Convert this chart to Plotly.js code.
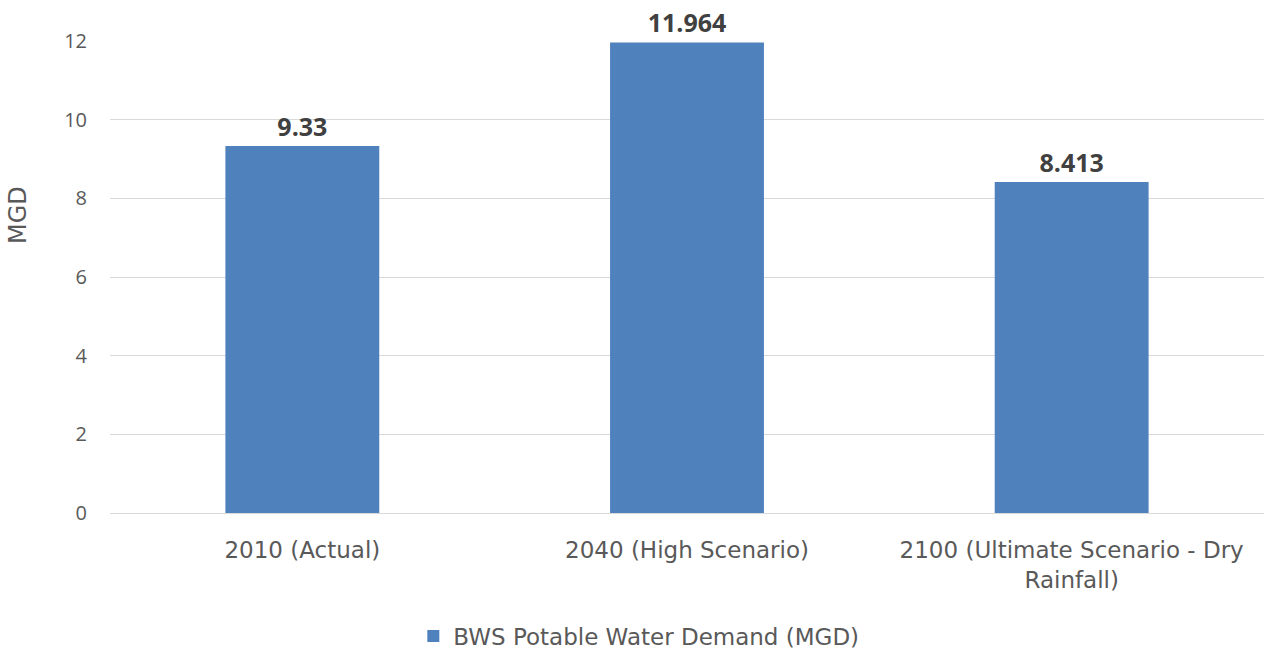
<!DOCTYPE html>
<html><head><meta charset="utf-8">
<script src="https://cdn.plot.ly/plotly-3.0.1.min.js"></script>
<style>html,body{margin:0;padding:0;background:#fff}#chart{width:1265px;height:649px}</style>
</head><body><div id="chart"></div>
<script>
const categories = ["2010 (Actual)", "2040 (High Scenario)", "2100 (Ultimate Scenario - Dry<br>Rainfall)"];
const demand = [9.33, 11.964, 8.413];
const seriesName = "BWS Potable Water Demand (MGD)";
const yTicks = [0, 2, 4, 6, 8, 10, 12];
const yTitle = "MGD";

const bodyFont = "Open Sans, Noto Sans, sans-serif";
const dinFont = "DejaVu Sans, sans-serif";
const L = 110, W = 1265, H = 649, T = 41, B = 136;
const plotW = W - L - 1, plotH = H - T - B;
Plotly.newPlot("chart", [{
  type: "bar",
  x: categories,
  y: demand,
  name: seriesName,
  marker: {color: "#4f81bd"},
  texttemplate: "<b>%{y}</b>",
  textposition: "outside",
  cliponaxis: false,
  constraintext: "none",
  textfont: {family: bodyFont, size: 25, color: "#404040"},
  hoverinfo: "x+y"
}], {
  width: W, height: H,
  margin: {l: L, r: 1, t: T, b: B},
  paper_bgcolor: "#fff", plot_bgcolor: "#fff",
  bargap: 0.6,
  showlegend: true,
  legend: {orientation: "h", xref: "container", x: 0.505, xanchor: "center", yref: "container", y: 0.02, yanchor: "middle",
           itemwidth: 30, font: {family: dinFont, size: 23, color: "#595959"}},
  xaxis: {type: "category", showgrid: false, showline: true, linecolor: "#d9d9d9", linewidth: 1,
          tickfont: {family: dinFont, size: 23, color: "#595959"}, ticks: "", ticklabelstandoff: 16},
  yaxis: {range: [0, 12], tickvals: yTicks, showgrid: true, gridcolor: "#d9d9d9", gridwidth: 1,
          zeroline: false, showline: false, ticks: "", ticklabelstandoff: 22,
          tickfont: {family: bodyFont, size: 20, color: "#595959"}},
  annotations: [{
    text: yTitle, textangle: -90, showarrow: false,
    xref: "paper", yref: "paper",
    x: (18 - L) / plotW, y: (H - B - 215) / plotH, xanchor: "center", yanchor: "middle",
    font: {family: dinFont, size: 24, color: "#595959"}
  }]
}, {displayModeBar: false, staticPlot: true});
</script></body></html>
